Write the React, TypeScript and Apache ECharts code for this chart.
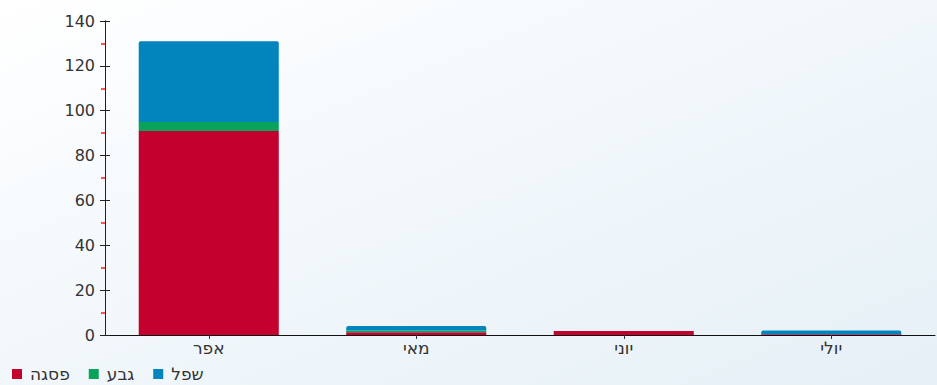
import React, { useEffect, useRef } from "react";
import * as echarts from "echarts";

const categories = ["אפר", "מאי", "יוני", "יולי"];
const seriesNames = ["פסגה", "גבע", "שפל"];
const peakValues = [91, 1.2, 1.8, 0.3];
const shoulderValues = [4, 0.8, 0, 0];
const offPeakValues = [36, 2.0, 0, 1.7];
const seriesColors = ["#c4002f", "#0aa35c", "#0284bd"];

const FONT = "DejaVu Sans";
const HEB_FONT = "DejaVu Sans";

export default function App() {
  const ref = useRef<HTMLDivElement>(null);
  useEffect(() => {
    if (!ref.current) return;
    const chart = echarts.init(ref.current, undefined, { renderer: "svg" });
    const valueSets = [peakValues, shoulderValues, offPeakValues];
    const yBase = {
      type: "value" as const,
      min: 0,
      max: 140,
      interval: 20,
      position: "left" as const,
      splitLine: { show: false },
      axisLine: { show: true, lineStyle: { color: "#222", width: 1 } },
    };
    chart.setOption({
      animation: false,
      backgroundColor: new echarts.graphic.LinearGradient(0, 0, 1, 1, [
        { offset: 0, color: "#ffffff" },
        { offset: 0.5, color: "#f1f7fb" },
        { offset: 1, color: "#e6f0f6" },
      ]),
      textStyle: { fontFamily: FONT },
      grid: { left: 105, right: 2, top: 21, bottom: 50, containLabel: false },
      legend: {
        left: 12,
        top: 365,
        padding: 0,
        itemWidth: 10,
        itemHeight: 10,
        itemGap: 19,
        icon: "rect",
        data: seriesNames,
        textStyle: {
          fontFamily: HEB_FONT,
          fontSize: 17,
          lineHeight: 18,
          color: "#333",
          padding: [0, 0, 0, 3],
        },
      },
      xAxis: {
        type: "category",
        data: categories,
        axisLine: { lineStyle: { color: "#111", width: 1 } },
        axisTick: { show: true, alignWithLabel: true, length: 4, lineStyle: { color: "#333" } },
        axisLabel: { fontFamily: HEB_FONT, fontSize: 17, color: "#333", margin: 4 },
      },
      yAxis: [
        {
          ...yBase,
          axisTick: { show: true, inside: false, length: 5, lineStyle: { color: "#222" } },
          minorTick: { show: true, splitNumber: 2, length: 4, lineStyle: { color: "#ff1a1a", width: 1.5 } },
          axisLabel: { fontFamily: FONT, fontSize: 16, color: "#333", margin: 10 },
        },
        {
          ...yBase,
          axisTick: { show: true, inside: true, length: 5, lineStyle: { color: "#222" } },
          axisLabel: { show: false },
        },
      ],
      series: seriesNames.map((name, i) => ({
        name,
        type: "bar",
        stack: "total",
        yAxisIndex: 0,
        barWidth: "67.5%",
        data: valueSets[i],
        itemStyle: { color: seriesColors[i], borderRadius: i === 2 ? [2, 2, 0, 0] : 0 },
      })),
    });
    return () => chart.dispose();
  }, []);
  return (
    <div
      ref={ref}
      style={{ position: "absolute", left: 0, top: 0, width: 937, height: 385 }}
    />
  );
}
